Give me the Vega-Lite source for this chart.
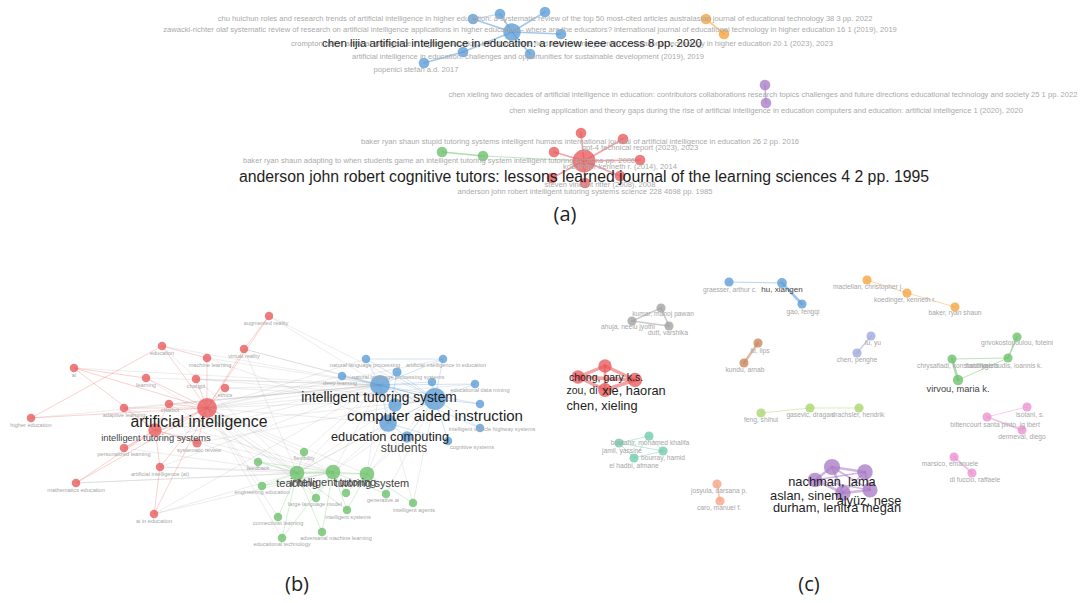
{
  "$schema": "https://vega.github.io/schema/vega-lite/v6.json",
  "width": 1089,
  "height": 603,
  "autosize": {"type": "fit", "contains": "padding"},
  "padding": 0,
  "background": "white",
  "config": {"view": {"stroke": null}},
  "datasets": {
    "nodes": [
      {"id": "aB0", "x": 512, "y": 32, "c": "blue", "w": 52},
      {"id": "aB1", "x": 473, "y": 19, "c": "blue", "w": 19},
      {"id": "aB2", "x": 500, "y": 14, "c": "blue", "w": 19},
      {"id": "aB3", "x": 545, "y": 12, "c": "blue", "w": 19},
      {"id": "aB4", "x": 561, "y": 34, "c": "blue", "w": 19},
      {"id": "aB5", "x": 463, "y": 52, "c": "blue", "w": 19},
      {"id": "aB6", "x": 530, "y": 54, "c": "blue", "w": 19},
      {"id": "aB7", "x": 424, "y": 63, "c": "blue", "w": 19},
      {"id": "aO1", "x": 706, "y": 19, "c": "orange", "w": 19},
      {"id": "aO2", "x": 724, "y": 34, "c": "orange", "w": 19},
      {"id": "aP1", "x": 765, "y": 85, "c": "purple", "w": 19},
      {"id": "aP2", "x": 766, "y": 103, "c": "purple", "w": 19},
      {"id": "aR0", "x": 584, "y": 161, "c": "red", "w": 88},
      {"id": "aR1", "x": 581, "y": 133, "c": "red", "w": 19},
      {"id": "aR2", "x": 623, "y": 139, "c": "red", "w": 19},
      {"id": "aR3", "x": 640, "y": 160, "c": "red", "w": 19},
      {"id": "aR4", "x": 554, "y": 152, "c": "red", "w": 19},
      {"id": "aR5", "x": 585, "y": 183, "c": "red", "w": 19},
      {"id": "aR6", "x": 552, "y": 178, "c": "red", "w": 19},
      {"id": "aR7", "x": 620, "y": 176, "c": "red", "w": 19},
      {"id": "aG1", "x": 442, "y": 152, "c": "green", "w": 19},
      {"id": "aG2", "x": 483, "y": 156, "c": "green", "w": 19},

      {"id": "ar", "x": 269, "y": 316, "c": "red", "w": 12},
      {"id": "ed", "x": 162, "y": 346, "c": "red", "w": 12},
      {"id": "vr", "x": 244, "y": 349, "c": "red", "w": 12},
      {"id": "ml", "x": 207, "y": 358, "c": "red", "w": 12},
      {"id": "ai", "x": 74, "y": 368, "c": "red", "w": 12},
      {"id": "le", "x": 146, "y": 378, "c": "red", "w": 12},
      {"id": "cg", "x": 196, "y": 379, "c": "red", "w": 12},
      {"id": "et", "x": 225, "y": 388, "c": "red", "w": 12},
      {"id": "cb", "x": 169, "y": 404, "c": "red", "w": 12},
      {"id": "al", "x": 124, "y": 408, "c": "red", "w": 12},
      {"id": "AI", "x": 207, "y": 408, "c": "red", "w": 66},
      {"id": "he", "x": 31, "y": 418, "c": "red", "w": 12},
      {"id": "ITSr", "x": 155, "y": 430, "c": "red", "w": 30},
      {"id": "pl", "x": 124, "y": 448, "c": "red", "w": 12},
      {"id": "sr", "x": 197, "y": 443, "c": "red", "w": 14},
      {"id": "aia", "x": 160, "y": 467, "c": "red", "w": 12},
      {"id": "me", "x": 76, "y": 483, "c": "red", "w": 12},
      {"id": "aie", "x": 154, "y": 514, "c": "red", "w": 12},
      {"id": "nlp", "x": 366, "y": 359, "c": "blue", "w": 12},
      {"id": "aiedb", "x": 443, "y": 359, "c": "blue", "w": 12},
      {"id": "dl", "x": 342, "y": 376, "c": "blue", "w": 12},
      {"id": "nps", "x": 397, "y": 372, "c": "blue", "w": 14},
      {"id": "bx2", "x": 432, "y": 382, "c": "blue", "w": 12},
      {"id": "ITS", "x": 380, "y": 385, "c": "blue", "w": 66},
      {"id": "edm", "x": 475, "y": 384, "c": "blue", "w": 12},
      {"id": "CAI", "x": 435, "y": 399, "c": "blue", "w": 80},
      {"id": "bx3", "x": 395, "y": 405, "c": "blue", "w": 30},
      {"id": "bx4", "x": 480, "y": 404, "c": "blue", "w": 12},
      {"id": "EC", "x": 388, "y": 423, "c": "blue", "w": 52},
      {"id": "stu", "x": 407, "y": 437, "c": "blue", "w": 22},
      {"id": "ivhs", "x": 480, "y": 428, "c": "blue", "w": 12},
      {"id": "cog", "x": 448, "y": 441, "c": "blue", "w": 12},
      {"id": "fb", "x": 258, "y": 462, "c": "green", "w": 12},
      {"id": "fx", "x": 304, "y": 452, "c": "green", "w": 12},
      {"id": "TE", "x": 297, "y": 473, "c": "green", "w": 36},
      {"id": "IT", "x": 333, "y": 472, "c": "green", "w": 36},
      {"id": "TS", "x": 367, "y": 474, "c": "green", "w": 36},
      {"id": "ee", "x": 262, "y": 486, "c": "green", "w": 12},
      {"id": "gx", "x": 346, "y": 493, "c": "green", "w": 12},
      {"id": "llm", "x": 316, "y": 498, "c": "green", "w": 12},
      {"id": "gai", "x": 386, "y": 494, "c": "green", "w": 12},
      {"id": "ia", "x": 413, "y": 503, "c": "green", "w": 12},
      {"id": "is", "x": 347, "y": 510, "c": "green", "w": 12},
      {"id": "cl", "x": 278, "y": 517, "c": "green", "w": 12},
      {"id": "aml", "x": 322, "y": 532, "c": "green", "w": 12},
      {"id": "etech", "x": 282, "y": 538, "c": "green", "w": 12},

      {"id": "c_gr", "x": 729, "y": 282, "c": "blue", "w": 14},
      {"id": "c_hu", "x": 782, "y": 283, "c": "blue", "w": 16},
      {"id": "c_gao", "x": 802, "y": 304, "c": "blue", "w": 14},
      {"id": "c_ku", "x": 661, "y": 308, "c": "gray", "w": 14},
      {"id": "c_ah", "x": 632, "y": 321, "c": "gray", "w": 14},
      {"id": "c_du", "x": 669, "y": 326, "c": "gray", "w": 14},
      {"id": "c_lu", "x": 758, "y": 343, "c": "brown", "w": 14},
      {"id": "c_kun", "x": 744, "y": 363, "c": "brown", "w": 14},
      {"id": "c_r1", "x": 605, "y": 366, "c": "red", "w": 30},
      {"id": "c_r2", "x": 578, "y": 377, "c": "red", "w": 30},
      {"id": "c_r3", "x": 635, "y": 380, "c": "red", "w": 34},
      {"id": "c_r4", "x": 605, "y": 390, "c": "red", "w": 32},
      {"id": "c_o1", "x": 867, "y": 280, "c": "orange", "w": 14},
      {"id": "c_o2", "x": 907, "y": 293, "c": "orange", "w": 14},
      {"id": "c_o3", "x": 955, "y": 307, "c": "orange", "w": 14},
      {"id": "c_l1", "x": 871, "y": 336, "c": "lavender", "w": 14},
      {"id": "c_l2", "x": 857, "y": 353, "c": "lavender", "w": 14},
      {"id": "c_g1", "x": 1017, "y": 337, "c": "green", "w": 14},
      {"id": "c_g2", "x": 952, "y": 359, "c": "green", "w": 14},
      {"id": "c_g3", "x": 1008, "y": 358, "c": "green", "w": 14},
      {"id": "c_g4", "x": 958, "y": 380, "c": "green", "w": 18},
      {"id": "c_t1", "x": 649, "y": 436, "c": "teal", "w": 14},
      {"id": "c_t2", "x": 619, "y": 443, "c": "teal", "w": 14},
      {"id": "c_t3", "x": 663, "y": 451, "c": "teal", "w": 14},
      {"id": "c_t4", "x": 634, "y": 458, "c": "teal", "w": 14},
      {"id": "c_lg1", "x": 761, "y": 413, "c": "lime", "w": 14},
      {"id": "c_lg2", "x": 810, "y": 408, "c": "lime", "w": 14},
      {"id": "c_lg3", "x": 859, "y": 408, "c": "lime", "w": 14},
      {"id": "c_s1", "x": 717, "y": 484, "c": "salmon", "w": 14},
      {"id": "c_s2", "x": 720, "y": 501, "c": "salmon", "w": 14},
      {"id": "c_p1", "x": 832, "y": 467, "c": "purple", "w": 44},
      {"id": "c_p2", "x": 865, "y": 472, "c": "purple", "w": 40},
      {"id": "c_p3", "x": 815, "y": 480, "c": "purple", "w": 36},
      {"id": "c_p4", "x": 870, "y": 490, "c": "purple", "w": 38},
      {"id": "c_p5", "x": 843, "y": 493, "c": "purple", "w": 40},
      {"id": "c_k1", "x": 1027, "y": 407, "c": "pink", "w": 14},
      {"id": "c_k2", "x": 987, "y": 417, "c": "pink", "w": 14},
      {"id": "c_k3", "x": 1022, "y": 430, "c": "pink", "w": 14},
      {"id": "c_k4", "x": 954, "y": 457, "c": "pink", "w": 14},
      {"id": "c_k5", "x": 972, "y": 473, "c": "pink", "w": 14}
    ],
    "edges": [
      {"s": "aB0", "t": "aB1", "p": "a", "w": 2},
      {"s": "aB0", "t": "aB2", "p": "a", "w": 2},
      {"s": "aB0", "t": "aB3", "p": "a", "w": 2},
      {"s": "aB0", "t": "aB4", "p": "a", "w": 2},
      {"s": "aB0", "t": "aB5", "p": "a", "w": 2},
      {"s": "aB0", "t": "aB6", "p": "a", "w": 2},
      {"s": "aB5", "t": "aB7", "p": "a", "w": 2},
      {"s": "aB1", "t": "aB2", "p": "a", "w": 1},
      {"s": "aO1", "t": "aO2", "p": "a", "w": 2},
      {"s": "aP1", "t": "aP2", "p": "a", "w": 2},
      {"s": "aR0", "t": "aR1", "p": "a", "w": 2},
      {"s": "aR0", "t": "aR2", "p": "a", "w": 2},
      {"s": "aR0", "t": "aR3", "p": "a", "w": 2},
      {"s": "aR0", "t": "aR4", "p": "a", "w": 2},
      {"s": "aR0", "t": "aR5", "p": "a", "w": 2},
      {"s": "aR0", "t": "aR6", "p": "a", "w": 2},
      {"s": "aR0", "t": "aR7", "p": "a", "w": 2},
      {"s": "aG1", "t": "aG2", "p": "a", "w": 2},
      {"s": "aG2", "t": "aR0", "p": "a", "w": 1},

      {"s": "ar", "t": "AI", "p": "b"}, {"s": "ar", "t": "ITS", "p": "b"}, {"s": "ar", "t": "CAI", "p": "b"}, {"s": "ar", "t": "vr", "p": "b"},
      {"s": "ed", "t": "AI", "p": "b"}, {"s": "ed", "t": "ITS", "p": "b"}, {"s": "ed", "t": "ml", "p": "b"}, {"s": "ed", "t": "TE", "p": "b"},
      {"s": "vr", "t": "AI", "p": "b"}, {"s": "vr", "t": "CAI", "p": "b"}, {"s": "vr", "t": "ITS", "p": "b"}, {"s": "vr", "t": "TE", "p": "b"},
      {"s": "ml", "t": "AI", "p": "b"}, {"s": "ml", "t": "ITS", "p": "b"}, {"s": "ml", "t": "EC", "p": "b"},
      {"s": "ai", "t": "AI", "p": "b"}, {"s": "ai", "t": "ITSr", "p": "b"}, {"s": "ai", "t": "le", "p": "b"}, {"s": "ai", "t": "ITS", "p": "b"},
      {"s": "le", "t": "AI", "p": "b"}, {"s": "le", "t": "ITS", "p": "b"}, {"s": "le", "t": "TE", "p": "b"},
      {"s": "cg", "t": "AI", "p": "b"}, {"s": "cg", "t": "ITS", "p": "b"}, {"s": "cg", "t": "CAI", "p": "b"},
      {"s": "et", "t": "AI", "p": "b"}, {"s": "et", "t": "CAI", "p": "b"}, {"s": "et", "t": "ITS", "p": "b"},
      {"s": "cb", "t": "AI", "p": "b"}, {"s": "cb", "t": "ITSr", "p": "b"}, {"s": "cb", "t": "ITS", "p": "b"}, {"s": "cb", "t": "TE", "p": "b"},
      {"s": "al", "t": "AI", "p": "b"}, {"s": "al", "t": "ITSr", "p": "b"}, {"s": "al", "t": "ITS", "p": "b"}, {"s": "al", "t": "IT", "p": "b"},
      {"s": "he", "t": "AI", "p": "b"}, {"s": "he", "t": "ed", "p": "b"}, {"s": "he", "t": "ITS", "p": "b"},
      {"s": "pl", "t": "AI", "p": "b"}, {"s": "pl", "t": "ITSr", "p": "b"}, {"s": "pl", "t": "ITS", "p": "b"}, {"s": "pl", "t": "TE", "p": "b"},
      {"s": "sr", "t": "AI", "p": "b"}, {"s": "sr", "t": "ITSr", "p": "b"}, {"s": "sr", "t": "CAI", "p": "b"},
      {"s": "aia", "t": "AI", "p": "b"}, {"s": "aia", "t": "ITSr", "p": "b"}, {"s": "aia", "t": "ITS", "p": "b"}, {"s": "aia", "t": "TE", "p": "b"}, {"s": "aia", "t": "IT", "p": "b"},
      {"s": "me", "t": "AI", "p": "b"}, {"s": "me", "t": "ITSr", "p": "b"}, {"s": "me", "t": "IT", "p": "b"}, {"s": "me", "t": "TE", "p": "b"},
      {"s": "aie", "t": "AI", "p": "b"}, {"s": "aie", "t": "aia", "p": "b"}, {"s": "aie", "t": "TE", "p": "b"}, {"s": "aie", "t": "IT", "p": "b"}, {"s": "aie", "t": "ITS", "p": "b"},
      {"s": "AI", "t": "ITSr", "p": "b"}, {"s": "AI", "t": "ITS", "p": "b"}, {"s": "AI", "t": "CAI", "p": "b"}, {"s": "AI", "t": "EC", "p": "b"}, {"s": "AI", "t": "TE", "p": "b"}, {"s": "AI", "t": "IT", "p": "b"}, {"s": "AI", "t": "TS", "p": "b"},
      {"s": "ITSr", "t": "ITS", "p": "b"}, {"s": "ITSr", "t": "CAI", "p": "b"}, {"s": "ITSr", "t": "TE", "p": "b"}, {"s": "ITSr", "t": "IT", "p": "b"},
      {"s": "nlp", "t": "ITS", "p": "b"}, {"s": "nlp", "t": "CAI", "p": "b"}, {"s": "nlp", "t": "AI", "p": "b"}, {"s": "nlp", "t": "aiedb", "p": "b"},
      {"s": "aiedb", "t": "ITS", "p": "b"}, {"s": "aiedb", "t": "CAI", "p": "b"}, {"s": "aiedb", "t": "AI", "p": "b"},
      {"s": "dl", "t": "ITS", "p": "b"}, {"s": "dl", "t": "AI", "p": "b"}, {"s": "dl", "t": "CAI", "p": "b"},
      {"s": "nps", "t": "ITS", "p": "b"}, {"s": "nps", "t": "CAI", "p": "b"}, {"s": "nps", "t": "EC", "p": "b"},
      {"s": "bx2", "t": "ITS", "p": "b"}, {"s": "bx2", "t": "CAI", "p": "b"},
      {"s": "ITS", "t": "CAI", "p": "b"}, {"s": "ITS", "t": "EC", "p": "b"}, {"s": "ITS", "t": "TE", "p": "b"}, {"s": "ITS", "t": "IT", "p": "b"}, {"s": "ITS", "t": "TS", "p": "b"}, {"s": "ITS", "t": "bx3", "p": "b"},
      {"s": "edm", "t": "CAI", "p": "b"}, {"s": "edm", "t": "ITS", "p": "b"}, {"s": "edm", "t": "AI", "p": "b"},
      {"s": "CAI", "t": "EC", "p": "b"}, {"s": "CAI", "t": "TE", "p": "b"}, {"s": "CAI", "t": "IT", "p": "b"}, {"s": "CAI", "t": "TS", "p": "b"}, {"s": "CAI", "t": "bx3", "p": "b"},
      {"s": "bx3", "t": "EC", "p": "b"}, {"s": "bx3", "t": "TE", "p": "b"},
      {"s": "bx4", "t": "CAI", "p": "b"}, {"s": "bx4", "t": "ITS", "p": "b"},
      {"s": "EC", "t": "TE", "p": "b"}, {"s": "EC", "t": "IT", "p": "b"}, {"s": "EC", "t": "TS", "p": "b"}, {"s": "EC", "t": "stu", "p": "b"},
      {"s": "stu", "t": "CAI", "p": "b"}, {"s": "stu", "t": "TS", "p": "b"},
      {"s": "ivhs", "t": "CAI", "p": "b"}, {"s": "ivhs", "t": "ITS", "p": "b"},
      {"s": "cog", "t": "CAI", "p": "b"}, {"s": "cog", "t": "EC", "p": "b"},
      {"s": "fb", "t": "TE", "p": "b"}, {"s": "fb", "t": "IT", "p": "b"}, {"s": "fb", "t": "AI", "p": "b"},
      {"s": "fx", "t": "TE", "p": "b"}, {"s": "fx", "t": "AI", "p": "b"}, {"s": "fx", "t": "ITS", "p": "b"},
      {"s": "TE", "t": "IT", "p": "b"}, {"s": "TE", "t": "TS", "p": "b"}, {"s": "IT", "t": "TS", "p": "b"},
      {"s": "ee", "t": "TE", "p": "b"}, {"s": "ee", "t": "IT", "p": "b"}, {"s": "ee", "t": "AI", "p": "b"},
      {"s": "gx", "t": "IT", "p": "b"}, {"s": "gx", "t": "TS", "p": "b"},
      {"s": "llm", "t": "TE", "p": "b"}, {"s": "llm", "t": "IT", "p": "b"}, {"s": "llm", "t": "AI", "p": "b"},
      {"s": "gai", "t": "TS", "p": "b"}, {"s": "gai", "t": "IT", "p": "b"}, {"s": "gai", "t": "CAI", "p": "b"},
      {"s": "ia", "t": "TS", "p": "b"}, {"s": "ia", "t": "CAI", "p": "b"}, {"s": "ia", "t": "ITS", "p": "b"},
      {"s": "is", "t": "IT", "p": "b"}, {"s": "is", "t": "TS", "p": "b"}, {"s": "is", "t": "TE", "p": "b"},
      {"s": "cl", "t": "TE", "p": "b"}, {"s": "cl", "t": "AI", "p": "b"},
      {"s": "aml", "t": "TE", "p": "b"}, {"s": "aml", "t": "IT", "p": "b"},
      {"s": "etech", "t": "TE", "p": "b"}, {"s": "etech", "t": "IT", "p": "b"}, {"s": "etech", "t": "AI", "p": "b"},

      {"s": "c_gr", "t": "c_hu", "p": "c", "w": 1},
      {"s": "c_hu", "t": "c_gao", "p": "c", "w": 3},
      {"s": "c_ku", "t": "c_ah", "p": "c", "w": 2},
      {"s": "c_ku", "t": "c_du", "p": "c", "w": 2},
      {"s": "c_ah", "t": "c_du", "p": "c", "w": 2},
      {"s": "c_lu", "t": "c_kun", "p": "c", "w": 3},
      {"s": "c_r1", "t": "c_r2", "p": "c", "w": 4},
      {"s": "c_r1", "t": "c_r3", "p": "c", "w": 4},
      {"s": "c_r2", "t": "c_r4", "p": "c", "w": 4},
      {"s": "c_r3", "t": "c_r4", "p": "c", "w": 4},
      {"s": "c_r1", "t": "c_r4", "p": "c", "w": 3},
      {"s": "c_r2", "t": "c_r3", "p": "c", "w": 4},
      {"s": "c_o1", "t": "c_o2", "p": "c", "w": 1},
      {"s": "c_o2", "t": "c_o3", "p": "c", "w": 1},
      {"s": "c_l1", "t": "c_l2", "p": "c", "w": 2},
      {"s": "c_g2", "t": "c_g4", "p": "c", "w": 3},
      {"s": "c_g4", "t": "c_g3", "p": "c", "w": 1},
      {"s": "c_g2", "t": "c_g3", "p": "c", "w": 1},
      {"s": "c_g3", "t": "c_g1", "p": "c", "w": 2},
      {"s": "c_t1", "t": "c_t2", "p": "c", "w": 1},
      {"s": "c_t1", "t": "c_t3", "p": "c", "w": 1},
      {"s": "c_t1", "t": "c_t4", "p": "c", "w": 1},
      {"s": "c_t2", "t": "c_t3", "p": "c", "w": 1},
      {"s": "c_t2", "t": "c_t4", "p": "c", "w": 1},
      {"s": "c_t3", "t": "c_t4", "p": "c", "w": 1},
      {"s": "c_lg1", "t": "c_lg2", "p": "c", "w": 1},
      {"s": "c_lg2", "t": "c_lg3", "p": "c", "w": 1},
      {"s": "c_s1", "t": "c_s2", "p": "c", "w": 2},
      {"s": "c_p1", "t": "c_p2", "p": "c", "w": 3},
      {"s": "c_p1", "t": "c_p3", "p": "c", "w": 3},
      {"s": "c_p1", "t": "c_p4", "p": "c", "w": 2},
      {"s": "c_p1", "t": "c_p5", "p": "c", "w": 3},
      {"s": "c_p2", "t": "c_p3", "p": "c", "w": 2},
      {"s": "c_p2", "t": "c_p4", "p": "c", "w": 3},
      {"s": "c_p2", "t": "c_p5", "p": "c", "w": 2},
      {"s": "c_p3", "t": "c_p4", "p": "c", "w": 2},
      {"s": "c_p3", "t": "c_p5", "p": "c", "w": 3},
      {"s": "c_p4", "t": "c_p5", "p": "c", "w": 3},
      {"s": "c_k2", "t": "c_k1", "p": "c", "w": 1},
      {"s": "c_k2", "t": "c_k3", "p": "c", "w": 2},
      {"s": "c_k4", "t": "c_k5", "p": "c", "w": 2}
    ],
    "labels": [
      {"x": 545, "y": 19, "lv": "f7", "t": "chu huichun roles and research trends of artificial intelligence in higher education: a systematic review of the top 50 most-cited articles australasian journal of educational technology 38 3 pp. 2022"},
      {"x": 530, "y": 30, "lv": "f7", "t": "zawacki-richter olaf systematic review of research on artificial intelligence applications in higher education – where are the educators? international journal of educational technology in higher education 16 1 (2019), 2019"},
      {"x": 562, "y": 44, "lv": "f7", "t": "crompton helen artificial intelligence in higher education: the state of the field international journal of educational technology in higher education 20 1 (2023), 2023"},
      {"x": 512, "y": 44, "lv": "d11", "t": "chen lijia artificial intelligence in education: a review ieee access 8 pp. 2020"},
      {"x": 528, "y": 57, "lv": "f7", "t": "artificial intelligence in education: challenges and opportunities for sustainable development (2019), 2019"},
      {"x": 416, "y": 70, "lv": "f7", "t": "popenici stefan a.d. 2017"},
      {"x": 763, "y": 95, "lv": "f7", "t": "chen xieling two decades of artificial intelligence in education: contributors collaborations research topics challenges and future directions educational technology and society 25 1 pp. 2022"},
      {"x": 766, "y": 111, "lv": "f7", "t": "chen xieling application and theory gaps during the rise of artificial intelligence in education computers and education: artificial intelligence 1 (2020), 2020"},
      {"x": 580, "y": 142, "lv": "f7", "t": "baker ryan shaun stupid tutoring systems intelligent humans international journal of artificial intelligence in education 26 2 pp. 2016"},
      {"x": 640, "y": 148, "lv": "f7", "t": "gpt-4 technical report (2023), 2023"},
      {"x": 439, "y": 161, "lv": "f7", "t": "baker ryan shaun adapting to when students game an intelligent tutoring system intelligent tutoring systems pp. 2006"},
      {"x": 620, "y": 167, "lv": "f7", "t": "koedinger kenneth r. (2014), 2014"},
      {"x": 600, "y": 185, "lv": "f7", "t": "steven vincent ritter (2008), 2008"},
      {"x": 584, "y": 177, "lv": "d16", "t": "anderson john robert cognitive tutors: lessons learned journal of the learning sciences 4 2 pp. 1995"},
      {"x": 585, "y": 192, "lv": "f7", "t": "anderson john robert intelligent tutoring systems science 228 4698 pp. 1985"},

      {"x": 266, "y": 323, "lv": "f6", "t": "augmented reality"},
      {"x": 162, "y": 353, "lv": "f6", "t": "education"},
      {"x": 244, "y": 356, "lv": "f6", "t": "virtual reality"},
      {"x": 210, "y": 365, "lv": "f6", "t": "machine learning"},
      {"x": 74, "y": 375, "lv": "f6", "t": "ai"},
      {"x": 146, "y": 385, "lv": "f6", "t": "learning"},
      {"x": 196, "y": 386, "lv": "f6", "t": "chatgpt"},
      {"x": 225, "y": 395, "lv": "f6", "t": "ethics"},
      {"x": 170, "y": 410, "lv": "f6", "t": "chatbot"},
      {"x": 124, "y": 415, "lv": "f6", "t": "adaptive learning"},
      {"x": 31, "y": 425, "lv": "f6", "t": "higher education"},
      {"x": 124, "y": 454, "lv": "f6", "t": "personalized learning"},
      {"x": 199, "y": 450, "lv": "f6", "t": "systematic review"},
      {"x": 160, "y": 474, "lv": "f6", "t": "artificial intelligence (ai)"},
      {"x": 76, "y": 490, "lv": "f6", "t": "mathematics education"},
      {"x": 154, "y": 521, "lv": "f6", "t": "ai in education"},
      {"x": 365, "y": 365, "lv": "f6", "t": "natural language processing"},
      {"x": 446, "y": 365, "lv": "f6", "t": "artificial intelligence in education"},
      {"x": 340, "y": 383, "lv": "f6", "t": "deep learning"},
      {"x": 398, "y": 377, "lv": "f6", "t": "natural language processing systems"},
      {"x": 480, "y": 390, "lv": "f6", "t": "educational data mining"},
      {"x": 492, "y": 429, "lv": "f6", "t": "intelligent vehicle highway systems"},
      {"x": 472, "y": 447, "lv": "f6", "t": "cognitive systems"},
      {"x": 258, "y": 468, "lv": "f6", "t": "feedback"},
      {"x": 304, "y": 458, "lv": "f6", "t": "flexibility"},
      {"x": 262, "y": 492, "lv": "f6", "t": "engineering education"},
      {"x": 315, "y": 504, "lv": "f6", "t": "large language model"},
      {"x": 383, "y": 500, "lv": "f6", "t": "generative ai"},
      {"x": 414, "y": 510, "lv": "f6", "t": "intelligent agents"},
      {"x": 348, "y": 517, "lv": "f6", "t": "intelligent systems"},
      {"x": 278, "y": 523, "lv": "f6", "t": "connectivist learning"},
      {"x": 336, "y": 538, "lv": "f6", "t": "adversarial machine learning"},
      {"x": 282, "y": 544, "lv": "f6", "t": "educational technology"},
      {"x": 199, "y": 422, "lv": "d16", "t": "artificial intelligence"},
      {"x": 379, "y": 398, "lv": "d14", "t": "intelligent tutoring system"},
      {"x": 435, "y": 416, "lv": "d15", "t": "computer aided instruction"},
      {"x": 390, "y": 437, "lv": "d13", "t": "education computing"},
      {"x": 156, "y": 438, "lv": "g9", "t": "intelligent tutoring systems"},
      {"x": 404, "y": 448, "lv": "g12", "t": "students"},
      {"x": 297, "y": 484, "lv": "g11", "t": "teaching"},
      {"x": 333, "y": 483, "lv": "g11", "t": "intelligent tutoring"},
      {"x": 372, "y": 484, "lv": "g11", "t": "tutoring system"},

      {"x": 730, "y": 290, "lv": "f67", "t": "graesser, arthur c."},
      {"x": 782, "y": 290, "lv": "g8", "t": "hu, xiangen"},
      {"x": 803, "y": 312, "lv": "f67", "t": "gao, fengqi"},
      {"x": 663, "y": 314, "lv": "f67", "t": "kumar, manoj pawan"},
      {"x": 628, "y": 327, "lv": "f67", "t": "ahuja, neelu jyothi"},
      {"x": 668, "y": 333, "lv": "f67", "t": "dutt, varshika"},
      {"x": 760, "y": 351, "lv": "f67", "t": "lu, lips"},
      {"x": 745, "y": 370, "lv": "f67", "t": "kundu, arnab"},
      {"x": 606, "y": 378, "lv": "d10", "t": "chong, gary k.s."},
      {"x": 582, "y": 391, "lv": "d10", "t": "zou, di"},
      {"x": 634, "y": 391, "lv": "d13", "t": "xie, haoran"},
      {"x": 602, "y": 406, "lv": "d13", "t": "chen, xieling"},
      {"x": 868, "y": 287, "lv": "f67", "t": "maclellan, christopher j."},
      {"x": 905, "y": 300, "lv": "f67", "t": "koedinger, kenneth r."},
      {"x": 955, "y": 313, "lv": "f67", "t": "baker, ryan shaun"},
      {"x": 873, "y": 343, "lv": "f67", "t": "lu, yu"},
      {"x": 857, "y": 360, "lv": "f67", "t": "chen, penghe"},
      {"x": 1017, "y": 343, "lv": "f67", "t": "grivokostopoulou, foteini"},
      {"x": 952, "y": 366, "lv": "f67", "t": "chrysafiadi, konstantina"},
      {"x": 1004, "y": 366, "lv": "f67", "t": "hatzilygeroudis, ioannis k."},
      {"x": 990, "y": 366, "lv": "f67", "t": "katzis"},
      {"x": 958, "y": 389, "lv": "g9", "t": "virvou, maria k."},
      {"x": 650, "y": 443, "lv": "f67", "t": "boutahir, mohamed khalifa"},
      {"x": 622, "y": 451, "lv": "f67", "t": "jamil, yassine"},
      {"x": 663, "y": 458, "lv": "f67", "t": "bourray, hamid"},
      {"x": 634, "y": 466, "lv": "f67", "t": "el hadbi, afmane"},
      {"x": 761, "y": 420, "lv": "f67", "t": "feng, shihui"},
      {"x": 810, "y": 415, "lv": "f67", "t": "gasevic, dragan"},
      {"x": 858, "y": 415, "lv": "f67", "t": "drachsler, hendrik"},
      {"x": 719, "y": 491, "lv": "f67", "t": "josyula, darsana p."},
      {"x": 719, "y": 508, "lv": "f67", "t": "caro, manuel f."},
      {"x": 832, "y": 482, "lv": "d13", "t": "nachman, lama"},
      {"x": 806, "y": 496, "lv": "d13", "t": "aslan, sinem"},
      {"x": 869, "y": 501, "lv": "d13", "t": "alyüz, nese"},
      {"x": 837, "y": 508, "lv": "d13", "t": "durham, lenitra megan"},
      {"x": 1030, "y": 415, "lv": "f67", "t": "isotani, s."},
      {"x": 995, "y": 425, "lv": "f67", "t": "bittencourt santa pinto, ig ibert"},
      {"x": 1022, "y": 437, "lv": "f67", "t": "dermeval, diego"},
      {"x": 950, "y": 464, "lv": "f67", "t": "marsico, emanuele"},
      {"x": 975, "y": 480, "lv": "f67", "t": "di fuccio, raffaele"}
    ],
    "captions": [
      {"x": 565, "y": 215, "t": "(a)"},
      {"x": 297, "y": 585, "t": "(b)"},
      {"x": 809, "y": 585, "t": "(c)"}
    ]
  },
  "layer": [
    {
      "data": {"name": "edges"},
      "transform": [
        {"filter": "datum.p === 'b'"},
        {"lookup": "s", "from": {"data": {"name": "nodes"}, "key": "id", "fields": ["x", "y", "c"]}, "as": ["x1", "y1", "c1"]},
        {"lookup": "t", "from": {"data": {"name": "nodes"}, "key": "id", "fields": ["x", "y", "c"]}, "as": ["x2", "y2", "c2"]},
        {"filter": "datum.c1 !== datum.c2"}
      ],
      "mark": {"type": "rule", "color": "#8a8a8a", "opacity": 0.22, "strokeWidth": 0.7},
      "encoding": {
        "x": {"field": "x1", "type": "quantitative", "scale": {"domain": [0, 1089], "nice": false, "zero": false}, "axis": null},
        "y": {"field": "y1", "type": "quantitative", "scale": {"domain": [0, 603], "nice": false, "zero": false, "reverse": true}, "axis": null},
        "x2": {"field": "x2"},
        "y2": {"field": "y2"}
      }
    },
    {
      "data": {"name": "edges"},
      "transform": [
        {"filter": "datum.p === 'b'"},
        {"lookup": "s", "from": {"data": {"name": "nodes"}, "key": "id", "fields": ["x", "y", "c"]}, "as": ["x1", "y1", "c1"]},
        {"lookup": "t", "from": {"data": {"name": "nodes"}, "key": "id", "fields": ["x", "y", "c"]}, "as": ["x2", "y2", "c2"]},
        {"filter": "datum.c1 === datum.c2"}
      ],
      "mark": {"type": "rule", "opacity": 0.3, "strokeWidth": 0.9},
      "encoding": {
        "x": {"field": "x1", "type": "quantitative"},
        "y": {"field": "y1", "type": "quantitative"},
        "x2": {"field": "x2"},
        "y2": {"field": "y2"},
        "color": {"field": "c1", "type": "nominal", "legend": null,
          "scale": {"domain": ["red", "blue", "green", "orange", "purple", "gray", "brown", "lavender", "teal", "lime", "salmon", "pink"],
                    "range": ["#e8585a", "#5b9bd5", "#6abf69", "#f6a23c", "#a97cc6", "#a0a0a0", "#c8845a", "#9ea7dc", "#6fcbac", "#a8d46b", "#f5a383", "#ea8fcf"]}}
      }
    },
    {
      "data": {"name": "edges"},
      "transform": [
        {"filter": "datum.p !== 'b'"},
        {"lookup": "s", "from": {"data": {"name": "nodes"}, "key": "id", "fields": ["x", "y", "c"]}, "as": ["x1", "y1", "c1"]},
        {"lookup": "t", "from": {"data": {"name": "nodes"}, "key": "id", "fields": ["x", "y"]}, "as": ["x2", "y2"]}
      ],
      "mark": {"type": "rule", "opacity": 0.55, "strokeCap": "round"},
      "encoding": {
        "x": {"field": "x1", "type": "quantitative"},
        "y": {"field": "y1", "type": "quantitative"},
        "x2": {"field": "x2"},
        "y2": {"field": "y2"},
        "color": {"field": "c1", "type": "nominal", "legend": null},
        "strokeWidth": {"field": "w", "type": "quantitative", "legend": null, "scale": {"domain": [1, 4], "range": [0.8, 3.5]}}
      }
    },
    {
      "data": {"name": "nodes"},
      "mark": {"type": "circle", "opacity": 0.78, "stroke": null},
      "encoding": {
        "x": {"field": "x", "type": "quantitative"},
        "y": {"field": "y", "type": "quantitative"},
        "color": {"field": "c", "type": "nominal", "legend": null},
        "size": {"field": "w", "type": "quantitative", "legend": null, "scale": {"domain": [0, 100], "range": [0, 600]}}
      }
    },
    {"data": {"name": "labels"}, "transform": [{"filter": "datum.lv === 'f6'"}],
     "mark": {"type": "text", "font": "Liberation Sans", "fontSize": 5.6, "color": "#a6a6a6", "align": "center", "baseline": "middle"},
     "encoding": {"x": {"field": "x", "type": "quantitative"}, "y": {"field": "y", "type": "quantitative"}, "text": {"field": "t"}}},
    {"data": {"name": "labels"}, "transform": [{"filter": "datum.lv === 'f67'"}],
     "mark": {"type": "text", "font": "Liberation Sans", "fontSize": 6.7, "color": "#a6a6a6", "align": "center", "baseline": "middle"},
     "encoding": {"x": {"field": "x", "type": "quantitative"}, "y": {"field": "y", "type": "quantitative"}, "text": {"field": "t"}}},
    {"data": {"name": "labels"}, "transform": [{"filter": "datum.lv === 'f7'"}],
     "mark": {"type": "text", "font": "Liberation Sans", "fontSize": 7.6, "color": "#aaaaaa", "align": "center", "baseline": "middle"},
     "encoding": {"x": {"field": "x", "type": "quantitative"}, "y": {"field": "y", "type": "quantitative"}, "text": {"field": "t"}}},
    {"data": {"name": "labels"}, "transform": [{"filter": "datum.lv === 'g8'"}],
     "mark": {"type": "text", "font": "Liberation Sans", "fontSize": 8, "color": "#444444", "align": "center", "baseline": "middle"},
     "encoding": {"x": {"field": "x", "type": "quantitative"}, "y": {"field": "y", "type": "quantitative"}, "text": {"field": "t"}}},
    {"data": {"name": "labels"}, "transform": [{"filter": "datum.lv === 'g9'"}],
     "mark": {"type": "text", "font": "Liberation Sans", "fontSize": 9.3, "color": "#444444", "align": "center", "baseline": "middle"},
     "encoding": {"x": {"field": "x", "type": "quantitative"}, "y": {"field": "y", "type": "quantitative"}, "text": {"field": "t"}}},
    {"data": {"name": "labels"}, "transform": [{"filter": "datum.lv === 'g11'"}],
     "mark": {"type": "text", "font": "Liberation Sans", "fontSize": 11, "color": "#444444", "align": "center", "baseline": "middle"},
     "encoding": {"x": {"field": "x", "type": "quantitative"}, "y": {"field": "y", "type": "quantitative"}, "text": {"field": "t"}}},
    {"data": {"name": "labels"}, "transform": [{"filter": "datum.lv === 'g12'"}],
     "mark": {"type": "text", "font": "Liberation Sans", "fontSize": 12.3, "color": "#444444", "align": "center", "baseline": "middle"},
     "encoding": {"x": {"field": "x", "type": "quantitative"}, "y": {"field": "y", "type": "quantitative"}, "text": {"field": "t"}}},
    {"data": {"name": "labels"}, "transform": [{"filter": "datum.lv === 'd10'"}],
     "mark": {"type": "text", "font": "Liberation Sans", "fontSize": 10.5, "color": "#1e1e1e", "align": "center", "baseline": "middle"},
     "encoding": {"x": {"field": "x", "type": "quantitative"}, "y": {"field": "y", "type": "quantitative"}, "text": {"field": "t"}}},
    {"data": {"name": "labels"}, "transform": [{"filter": "datum.lv === 'd11'"}],
     "mark": {"type": "text", "font": "Liberation Sans", "fontSize": 11.4, "color": "#1e1e1e", "align": "center", "baseline": "middle"},
     "encoding": {"x": {"field": "x", "type": "quantitative"}, "y": {"field": "y", "type": "quantitative"}, "text": {"field": "t"}}},
    {"data": {"name": "labels"}, "transform": [{"filter": "datum.lv === 'd13'"}],
     "mark": {"type": "text", "font": "Liberation Sans", "fontSize": 12.8, "color": "#1e1e1e", "align": "center", "baseline": "middle"},
     "encoding": {"x": {"field": "x", "type": "quantitative"}, "y": {"field": "y", "type": "quantitative"}, "text": {"field": "t"}}},
    {"data": {"name": "labels"}, "transform": [{"filter": "datum.lv === 'd14'"}],
     "mark": {"type": "text", "font": "Liberation Sans", "fontSize": 13.8, "color": "#1e1e1e", "align": "center", "baseline": "middle"},
     "encoding": {"x": {"field": "x", "type": "quantitative"}, "y": {"field": "y", "type": "quantitative"}, "text": {"field": "t"}}},
    {"data": {"name": "labels"}, "transform": [{"filter": "datum.lv === 'd15'"}],
     "mark": {"type": "text", "font": "Liberation Sans", "fontSize": 15, "color": "#1e1e1e", "align": "center", "baseline": "middle"},
     "encoding": {"x": {"field": "x", "type": "quantitative"}, "y": {"field": "y", "type": "quantitative"}, "text": {"field": "t"}}},
    {"data": {"name": "labels"}, "transform": [{"filter": "datum.lv === 'd16'"}],
     "mark": {"type": "text", "font": "Liberation Sans", "fontSize": 15.8, "color": "#1e1e1e", "align": "center", "baseline": "middle"},
     "encoding": {"x": {"field": "x", "type": "quantitative"}, "y": {"field": "y", "type": "quantitative"}, "text": {"field": "t"}}},
    {
      "data": {"name": "captions"},
      "mark": {"type": "text", "font": "Open Sans", "fontSize": 20, "color": "#222222", "align": "center", "baseline": "middle"},
      "encoding": {"x": {"field": "x", "type": "quantitative"}, "y": {"field": "y", "type": "quantitative"}, "text": {"field": "t"}}
    }
  ]
}
